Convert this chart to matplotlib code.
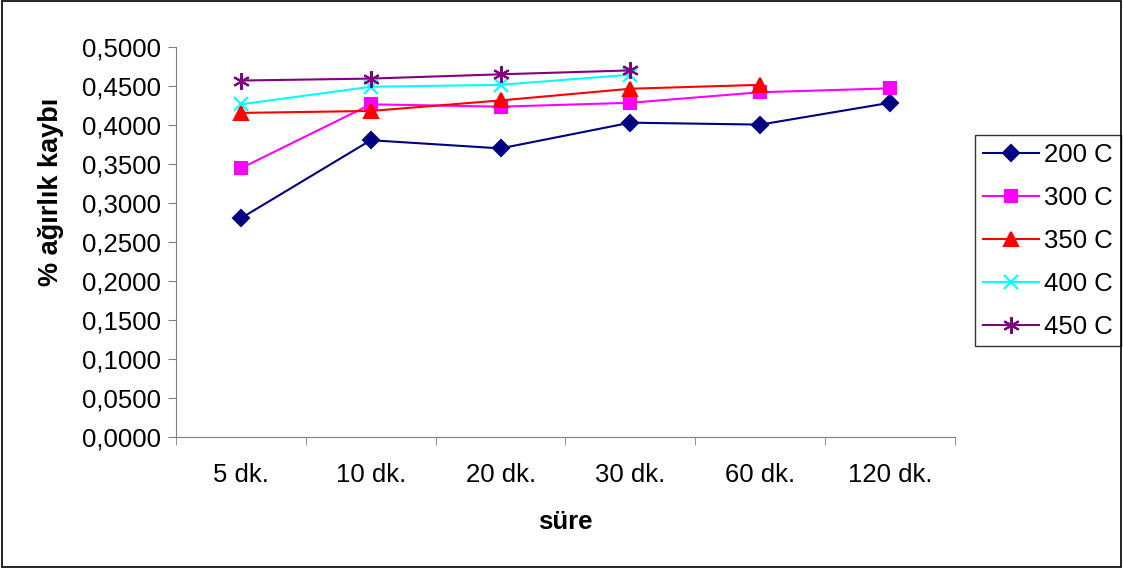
import numpy as np
import matplotlib
matplotlib.use('Agg')
from matplotlib import pyplot as plt
from matplotlib.ticker import FixedLocator, FuncFormatter

plt.rcParams['font.family'] = ['Liberation Sans', 'DejaVu Sans']

# weight-loss data, one list per temperature
durations = ['5 dk.', '10 dk.', '20 dk.', '30 dk.', '60 dk.', '120 dk.']
loss_200 = [0.2805, 0.3805, 0.3700, 0.4030, 0.4005, 0.4285]
loss_300 = [0.3445, 0.4265, 0.4235, 0.4285, 0.4420, 0.4470]
loss_350 = [0.4155, 0.4180, 0.4315, 0.4465, 0.4515]
loss_400 = [0.4265, 0.4490, 0.4515, 0.4645]
loss_450 = [0.4570, 0.4595, 0.4650, 0.4700]

series = [
    ('200 C', loss_200, '#000080', 'D', 8),
    ('300 C', loss_300, '#FF00FF', 's', 9),
    ('350 C', loss_350, '#FF0000', '^', 10),
    ('400 C', loss_400, '#00FFFF', 'x', 10),
    ('450 C', loss_450, '#800080', (6, 2, 0), 12),
]

FS = 18.5

fig = plt.figure(figsize=(11.23, 5.68), dpi=100)
ax = fig.add_axes([176 / 1123, 1 - 437 / 568, (955 - 176) / 1123, (437 - 47) / 568])

for label, vals, color, marker, size in series:
    x = np.arange(len(vals))
    ax.plot(x, vals, color=color, lw=1.5, marker=marker, markersize=size,
            markerfacecolor=color, markeredgecolor=color, markeredgewidth=1.5,
            label=label)

ax.set_xlim(-0.5, len(durations) - 0.5)
ax.set_ylim(0, 0.5)
ax.set_yticks(np.arange(0, 0.5001, 0.05))
ax.yaxis.set_major_formatter(FuncFormatter(lambda v, p: f'{v:.4f}'.replace('.', ',')))

ax.set_xticks(np.arange(len(durations)))
ax.set_xticklabels(durations)
ax.xaxis.set_minor_locator(FixedLocator(np.arange(len(durations) + 1) - 0.5))
ax.tick_params(axis='x', which='major', length=0, pad=19, labelsize=FS)
ax.tick_params(axis='x', which='minor', length=6, direction='out', color='#808080')
ax.tick_params(axis='y', length=6, direction='out', color='#808080', labelsize=FS, pad=5)

for side in ('top', 'right'):
    ax.spines[side].set_visible(False)
for side in ('left', 'bottom'):
    ax.spines[side].set_color('#808080')

ax.set_ylabel('% ağırlık kaybı', fontsize=19.5, fontweight='bold')
ax.yaxis.set_label_coords(-0.144, 0.628)
ax.set_xlabel('süre', fontsize=FS, fontweight='bold')
ax.xaxis.set_label_coords(0.5, -0.187)

leg = ax.legend(loc='upper left', bbox_to_anchor=(975 / 1123, 1 - 135 / 568),
                bbox_transform=fig.transFigure, frameon=True, fancybox=False,
                fontsize=FS, handlelength=2.2, labelspacing=0.74,
                borderpad=0.3, handletextpad=0.2, borderaxespad=0)
leg.get_frame().set_edgecolor('black')
leg.get_frame().set_linewidth(1.0)

# outer border around the whole figure
fig.patches.append(plt.Rectangle((0.002, 0.002), 0.996, 0.996, transform=fig.transFigure,
                                 fill=False, edgecolor='black', lw=1.2))

fig.savefig('out.png', dpi=100)
